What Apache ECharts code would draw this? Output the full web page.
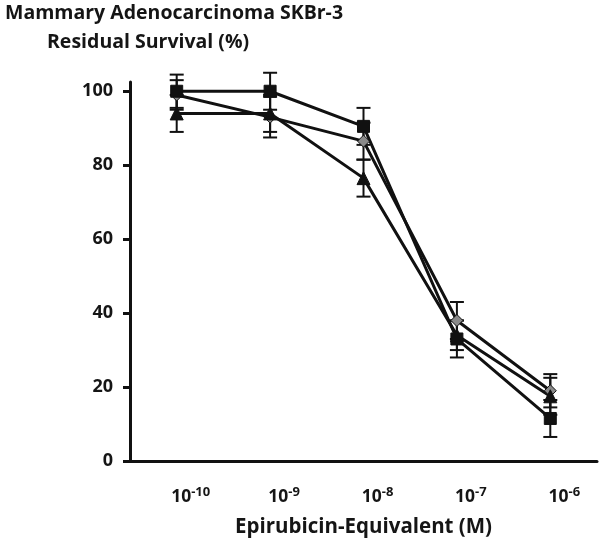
<!DOCTYPE html>
<html><head><meta charset="utf-8">
<script src="https://cdn.jsdelivr.net/npm/echarts@6/dist/echarts.min.js"></script>
<style>html,body{margin:0;padding:0;background:#fff}#c{width:600px;height:540px}</style>
</head><body><div id="c"></div>
<script>
const categories = ['-10', '-9', '-8', '-7', '-6'];
const yTicks = [0, 20, 40, 60, 80, 100];
const squareVals = [100, 100, 90.5, 33, 11.5];
const squareErr = [4.5, 5, 5, 5, 5];
const triangleVals = [94, 94, 76.5, 34, 17.5];
const triangleErr = [5, 5, 5, 4, 5];
const diamondVals = [99, 93, 86.5, 38, 19];
const diamondErr = [4, 5.5, 5, 5, 4.5];

const FONT = '"Open Sans", sans-serif';
const TXT = '#151515';

function errSeries(vals, errs) {
  return {
    type: 'custom',
    z: 5,
    data: vals.map((v, i) => [i, v - errs[i], v + errs[i]]),
    renderItem: function (params, api) {
      const lo = api.coord([api.value(0), api.value(1)]);
      const hi = api.coord([api.value(0), api.value(2)]);
      const w = 7;
      const st = { stroke: '#111', lineWidth: 2 };
      return { type: 'group', children: [
        { type: 'line', shape: { x1: lo[0], y1: lo[1], x2: hi[0], y2: hi[1] }, style: st },
        { type: 'line', shape: { x1: lo[0] - w, y1: lo[1], x2: lo[0] + w, y2: lo[1] }, style: st },
        { type: 'line', shape: { x1: hi[0] - w, y1: hi[1], x2: hi[0] + w, y2: hi[1] }, style: st }
      ]};
    }
  };
}
function lineSeries(vals, symbol, size, color) {
  return {
    type: 'line', data: vals, symbol: symbol, symbolSize: size, z: 10,
    lineStyle: { color: '#111', width: 3 },
    itemStyle: { color: color, borderColor: '#111', borderWidth: 1 }
  };
}

const chart = echarts.init(document.getElementById('c'));
chart.setOption({
  animation: false,
  backgroundColor: '#fff',
  title: [
    { text: 'Mammary Adenocarcinoma SKBr-3', left: 0, top: -2,
      textStyle: { fontFamily: FONT, fontWeight: 'bold', fontSize: 19.5, color: TXT } },
    { text: 'Residual Survival (%)', left: 42, top: 27,
      textStyle: { fontFamily: FONT, fontWeight: 'bold', fontSize: 19.5, color: TXT } }
  ],
  grid: { left: 130, right: 3, top: 82, bottom: 79, containLabel: false, outerBoundsMode: 'none' },
  xAxis: {
    type: 'category', data: categories, boundaryGap: true,
    name: 'Epirubicin-Equivalent (M)', nameLocation: 'middle', nameGap: 56,
    nameTextStyle: { fontFamily: FONT, fontWeight: 'bold', fontSize: 20.5, color: TXT },
    axisLine: { lineStyle: { color: '#111', width: 3 } },
    axisTick: { alignWithLabel: false, length: 8, lineStyle: { color: '#111', width: 3 } },
    axisLabel: {
      margin: 25, padding: [0, 0, 0, 28],
      formatter: v => '{b|10}{s|' + v + '}',
      rich: {
        b: { fontFamily: FONT, fontWeight: 'bold', fontSize: 17.5, color: TXT },
        s: { fontFamily: FONT, fontWeight: 'bold', fontSize: 13, color: TXT, verticalAlign: 'top', padding: [0, 0, 10, 0] }
      }
    }
  },
  yAxis: {
    type: 'value', min: 0, max: 102.5, interval: 20,
    splitLine: { show: false },
    axisLine: { show: true, lineStyle: { color: '#111', width: 3 } },
    axisTick: { show: true, length: 7, customValues: yTicks, lineStyle: { color: '#111', width: 3 } },
    axisLabel: { customValues: yTicks, margin: 17, fontFamily: FONT, fontWeight: 'bold', fontSize: 18, color: TXT }
  },
  series: [
    errSeries(squareVals, squareErr),
    errSeries(triangleVals, triangleErr),
    errSeries(diamondVals, diamondErr),
    lineSeries(diamondVals, 'diamond', 12, '#8a8a8a'),
    lineSeries(triangleVals, 'triangle', 13, '#111'),
    lineSeries(squareVals, 'rect', 12, '#111')
  ]
});
</script></body></html>
